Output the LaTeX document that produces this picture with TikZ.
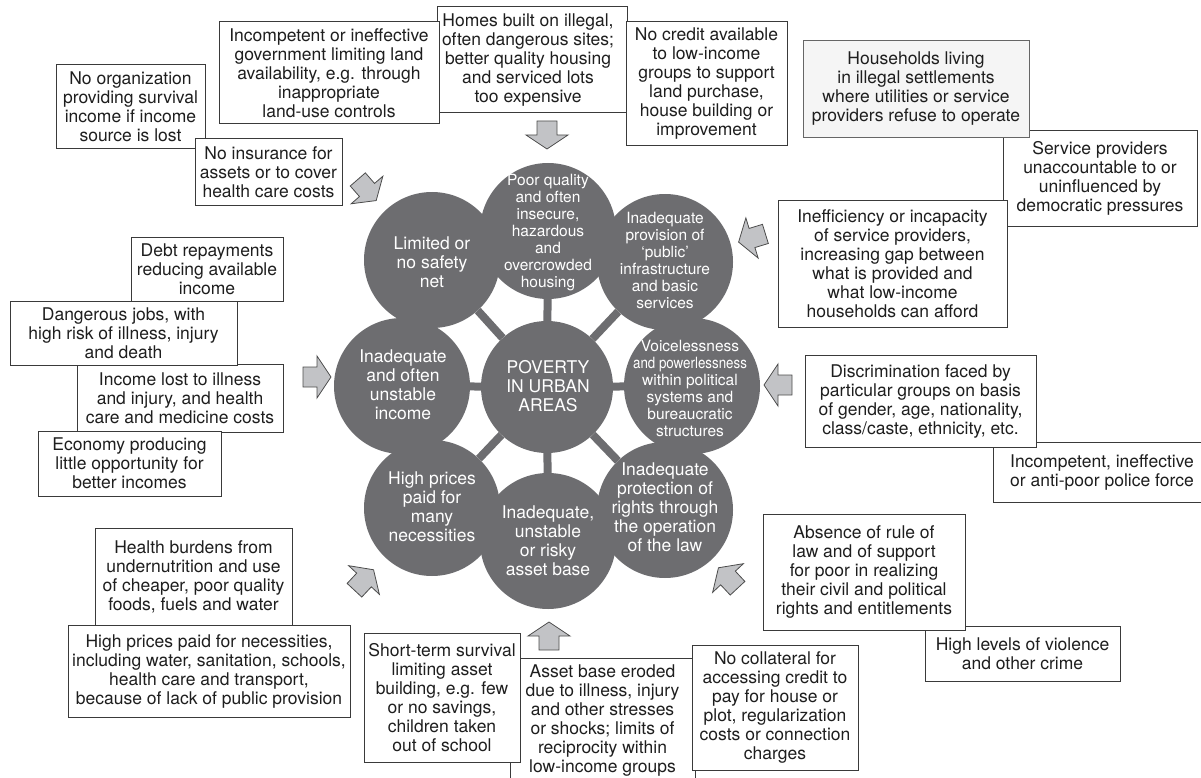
\documentclass[tikz,border=0pt]{standalone}
\usepackage{fontspec}
\setmainfont{TeX Gyre Heros}
\usepackage{graphicx}
\definecolor{circfill}{HTML}{6D6D70}
\definecolor{arrfill}{HTML}{C2C3C6}
\definecolor{boxline}{HTML}{3A3A3A}
\definecolor{txtcol}{HTML}{1E1E1E}
\tikzset{
  boxtext/.style={align=center, inner sep=1pt, font=\fontsize{17.5}{19}\selectfont, text=txtcol},
  box/.style={boxtext, draw=boxline, line width=1pt, fill=white},
  graybox/.style={box, fill=black!4, draw=black!60},
  disc/.style={circle, fill=circfill, minimum size=136pt, inner sep=0pt},
  cdisc/.style={circle, fill=circfill, minimum size=132pt, inner sep=0pt},
  ctext/.style={align=center, text=white, inner sep=0pt, font=\fontsize{17.5}{19}\selectfont},
  ctextsmall/.style={align=center, text=white, inner sep=0pt, font=\fontsize{15.5}{17}\selectfont},
  spoke/.style={draw=circfill, line width=8pt},
  blockarr/.pic={\draw[draw=black!70, fill=arrfill, line width=0.8pt, line join=miter]
     (-14,-10) -- (0,-10) -- (0,-21) -- (14,0) -- (0,21) -- (0,10) -- (-14,10) -- cycle;}
}
\begin{document}
\begin{tikzpicture}[x=1pt,y=-1pt]
\useasboundingbox (0,0) rectangle (1201,778);
\clip (0,0) rectangle (1201,778);

% ---------- circles ----------
\node[cdisc] (c) at (547,387) {};
\node[disc] (top) at (548,231) {};
\node[disc] (bot) at (548,541) {};
\node[disc] (lft) at (402,386) {};
\node[disc] (rgt) at (692,386) {};
\node[disc] (tl) at (432,260) {};
\node[disc] (tr) at (665,262) {};
\node[disc] (bl) at (432,508) {};
\node[disc] (br) at (665,510) {};
\foreach \n in {top,bot,lft,rgt,tl,tr,bl,br} \draw[spoke] (c) -- (\n);

\node[ctextsmall] (ttop) at (548,233) {Poor quality\\and often\\insecure,\\hazardous\\and\\overcrowded\\housing};
\node[ctextsmall] (ttr) at (665,260) {Inadequate\\provision of\\‘public’\\infrastructure\\and basic\\services};
\node[ctextsmall] (trgt) at (690,388) {Voicelessness\\\scalebox{0.86}[1]{and powerlessness}\\within political\\systems and\\bureaucratic\\structures};
\node[ctext] (ttl) at (432,262) {Limited or\\no safety\\net};
\node[ctext] (tlft) at (403,385) {Inadequate\\and often\\unstable\\income};
\node[ctext] (tc) at (548,386) {POVERTY\\IN URBAN\\AREAS};
\node[ctext] (tbl) at (432,507) {High prices\\paid for\\many\\necessities};
\node[ctext] (tbot) at (548,541) {Inadequate,\\unstable\\or risky\\asset base};
\node[ctext] (tbr) at (665,507) {Inadequate\\protection of\\rights through\\the operation\\of the law};

% ---------- block arrows ----------
\pic[rotate=-90] at (547,135) {blockarr};
\pic[rotate=-49] at (367,190) {blockarr};
\pic[rotate=-163] at (752,238) {blockarr};
\pic[rotate=0] at (317,377) {blockarr};
\pic[rotate=180] at (778,385) {blockarr};
\pic[rotate=47] at (364,580) {blockarr};
\pic[rotate=133] at (728,578) {blockarr};
\pic[rotate=90] at (549,636) {blockarr};

% ---------- boxes: top ----------
\node[box, minimum width=149pt, minimum height=84pt] (noorg) at (130.5,107) {No organization\\providing survival\\income if income\\source is lost};
\node[box, minimum width=147pt, minimum height=66pt] (noins) at (268.5,172) {No insurance for\\assets or to cover\\health care costs};
\node[box, minimum width=190pt, minimum height=106pt,
  label={[boxtext, xshift=-4pt]center:Homes built on illegal,\\often dangerous sites;\\better quality housing\\and serviced lots\\too expensive}] (homes) at (532,60) {};
\node[box, minimum width=220pt, minimum height=102pt] (incomp) at (329,73) {Incompetent or ineffective\\government limiting land\\availability, e.g. through\\inappropriate\\land-use controls};
\node[box, minimum width=161pt, minimum height=124pt] (nocredit) at (706.5,84) {No credit available\\to low-income\\groups to support\\land purchase,\\house building or\\improvement};

% ---------- boxes: right ----------
\node[box, minimum width=194pt, minimum height=95pt] (service) at (1100,178.5) {Service providers\\unaccountable to or\\uninfluenced by\\democratic pressures};
\node[graybox, minimum width=226pt, minimum height=97pt] (households) at (916,89) {Households living\\in illegal settlements\\where utilities or service\\providers refuse to operate};
\node[box, minimum width=229pt, minimum height=127pt] (ineff) at (892.5,263.5) {Inefficiency or incapacity\\of service providers,\\increasing gap between\\what is provided and\\what low-income\\households can afford};
\node[box, minimum width=217pt, minimum height=60pt] (police) at (1102,472) {Incompetent, ineffective\\or anti-poor police force};
\node[box, minimum width=231pt, minimum height=92pt] (discrim) at (920.5,401) {Discrimination faced by\\particular groups on basis\\of gender, age, nationality,\\class/caste, ethnicity, etc.};
\node[box, minimum width=195pt, minimum height=55pt] (violence) at (1022.5,653.5) {High levels of violence\\and other crime};
\node[box, minimum width=202pt, minimum height=116pt] (absence) at (864,572) {Absence of rule of\\law and of support\\for poor in realizing\\their civil and political\\rights and entitlements};

% ---------- boxes: left ----------
\node[box, minimum width=152pt, minimum height=64pt] (debt) at (207,269) {Debt repayments\\reducing available\\income};
\node[box, minimum width=206pt, minimum height=68pt] (incomelost) at (180,398) {Income lost to illness\\and injury, and health\\care and medicine costs};
\node[box, minimum width=227pt, minimum height=64pt] (danger) at (123.5,333) {Dangerous jobs, with\\high risk of illness, injury\\and death};
\node[box, minimum width=183pt, minimum height=65pt] (economy) at (129.5,463.5) {Economy producing\\little opportunity for\\better incomes};
\node[box, minimum width=197pt, minimum height=97pt] (health) at (193.5,577) {Health burdens from\\undernutrition and use\\of cheaper, poor quality\\foods, fuels and water};
\node[box, minimum width=282pt, minimum height=92pt] (highprices) at (209,671) {High prices paid for necessities,\\including water, sanitation, schools,\\health care and transport,\\because of lack of public provision};

% ---------- boxes: bottom ----------
\node[box, minimum width=185pt, minimum height=126pt] (assetbase) at (602.5,721) {Asset base eroded\\due to illness, injury\\and other stresses\\or shocks; limits of\\reciprocity within\\low-income groups};
\node[box, minimum width=156pt, minimum height=129pt] (shortterm) at (442,698) {Short-term survival\\limiting asset\\building, e.g. few\\or no savings,\\children taken\\out of school};
\node[box, minimum width=166pt, minimum height=125pt] (collateral) at (775,707.5) {No collateral for\\accessing credit to\\pay for house or\\plot, regularization\\costs or connection\\charges};
\end{tikzpicture}
\end{document}
